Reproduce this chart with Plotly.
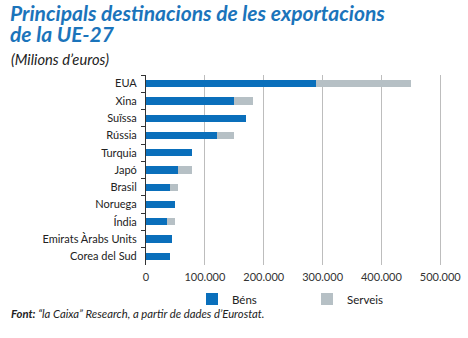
import plotly.graph_objects as go

countries = ["EUA", "Xina", "Suïssa", "Rússia", "Turquia", "Japó", "Brasil",
             "Noruega", "Índia", "Emirats Àrabs Units", "Corea del Sud"]
bens = [289000, 149000, 170000, 120000, 78000, 54000, 40000, 50000, 36000, 45000, 40000]
serveis = [162000, 33000, 0, 30000, 0, 24000, 14000, 0, 13000, 0, 0]
tick_vals = [0, 100000, 200000, 300000, 400000, 500000]
tick_text = ["0", "100.000", "200.000", "300.000", "400.000", "500.000"]

W, H = 468, 338
L, R, T, B = 146, 13, 75, 73
pw, ph = W - L - R, H - T - B
FONT = "Lato"

def px_x(x):
    return (x - L) / pw

def px_y(y):
    return (H - B - y) / ph

fig = go.Figure()
fig.add_trace(go.Bar(y=countries, x=bens, orientation="h", name="Béns",
                     marker=dict(color="#0a6fbb", line=dict(width=0)), width=0.42,
                     legend="legend", showlegend=True))
fig.add_trace(go.Bar(y=countries, x=serveis, orientation="h", name="Serveis",
                     marker=dict(color="#b6c0c5", line=dict(width=0)), width=0.42,
                     legend="legend2", showlegend=True))

leg_common = dict(orientation="h", xref="container", yref="paper", y=px_y(299),
                  xanchor="left", yanchor="middle", itemwidth=30,
                  font=dict(family=FONT, size=11.5, color="#222222"),
                  bgcolor="rgba(0,0,0,0)", visible=True)

fig.update_layout(
    width=W, height=H, barmode="stack", showlegend=True,
    margin=dict(l=L, r=R, t=T, b=B, autoexpand=False),
    paper_bgcolor="white", plot_bgcolor="white",
    font=dict(family=FONT, color="#222222", size=11),
    xaxis=dict(range=[0, 525000], tickvals=tick_vals, ticktext=tick_text,
               showgrid=True, gridcolor="#bdbdbd", gridwidth=1, zeroline=False,
               showline=False, ticks="", ticklabelstandoff=4,
               tickfont=dict(family=FONT, size=11, color="#333333")),
    yaxis=dict(autorange="reversed", showline=True, linecolor="#333333", linewidth=1,
               ticks="outside", tickson="boundaries", ticklen=4, tickcolor="#333333",
               ticklabelstandoff=6, tickfont=dict(family=FONT, size=11, color="#222222"),
               showgrid=False),
    legend=dict(x=192 / W, **leg_common),
    legend2=dict(x=307 / W, **leg_common),
    bargap=0.5,
)

title_font = dict(family=FONT, size=21, color="#1b74bb")
fig.add_annotation(text="<b><i>Principals destinacions de les exportacions</i></b>",
                   xref="paper", yref="paper", x=px_x(8), y=px_y(12.5),
                   xanchor="left", yanchor="middle", align="left", showarrow=False,
                   font=title_font)
fig.add_annotation(text="<b><i>de la UE-27</i></b>",
                   xref="paper", yref="paper", x=px_x(8), y=px_y(33.5),
                   xanchor="left", yanchor="middle", align="left", showarrow=False,
                   font=title_font)
fig.add_annotation(text="<i>(Milions d’euros)</i>", xref="paper", yref="paper",
                   x=px_x(9), y=px_y(59), xanchor="left", yanchor="middle",
                   showarrow=False, font=dict(family=FONT, size=14.7, color="#222222"))
fig.add_annotation(text="<b><i>Font:</i></b><i> “la Caixa” Research, a partir de dades d’Eurostat.</i>",
                   xref="paper", yref="paper", x=px_x(9), y=px_y(313),
                   xanchor="left", yanchor="middle", showarrow=False,
                   font=dict(family=FONT, size=11.3, color="#222222"))

fig.write_html("out.html")
